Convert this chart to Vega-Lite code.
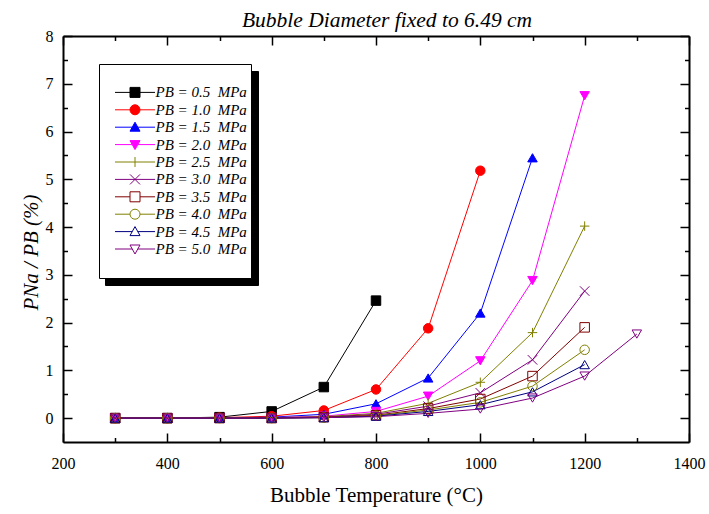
{
  "$schema": "https://vega.github.io/schema/vega-lite/v6.json",
  "width": 626,
  "height": 406,
  "autosize": {"type": "none"},
  "padding": {"left": 63, "top": 36, "right": 20, "bottom": 72},
  "background": "white",
  "config": {"view": {"stroke": null}, "font": "Liberation Serif"},
  "title": {"text": "Bubble Diameter fixed to 6.49 cm", "font": "Liberation Serif", "fontStyle": "italic", "fontSize": 21.5, "fontWeight": "normal", "color": "black", "offset": -3, "dx": 11},
  "data": {"values": [
    {"s": "0.5", "t": 300, "v": 0}, {"s": "0.5", "t": 400, "v": 0}, {"s": "0.5", "t": 500, "v": 0.02}, {"s": "0.5", "t": 600, "v": 0.14}, {"s": "0.5", "t": 700, "v": 0.65}, {"s": "0.5", "t": 800, "v": 2.46},
    {"s": "1.0", "t": 300, "v": 0}, {"s": "1.0", "t": 400, "v": 0}, {"s": "1.0", "t": 500, "v": 0.01}, {"s": "1.0", "t": 600, "v": 0.04}, {"s": "1.0", "t": 700, "v": 0.16}, {"s": "1.0", "t": 800, "v": 0.6}, {"s": "1.0", "t": 900, "v": 1.88}, {"s": "1.0", "t": 1000, "v": 5.18},
    {"s": "1.5", "t": 300, "v": 0}, {"s": "1.5", "t": 400, "v": 0}, {"s": "1.5", "t": 500, "v": 0}, {"s": "1.5", "t": 600, "v": 0.02}, {"s": "1.5", "t": 700, "v": 0.08}, {"s": "1.5", "t": 800, "v": 0.3}, {"s": "1.5", "t": 900, "v": 0.84}, {"s": "1.5", "t": 1000, "v": 2.2}, {"s": "1.5", "t": 1100, "v": 5.45},
    {"s": "2.0", "t": 300, "v": 0}, {"s": "2.0", "t": 400, "v": 0}, {"s": "2.0", "t": 500, "v": 0}, {"s": "2.0", "t": 600, "v": 0.01}, {"s": "2.0", "t": 700, "v": 0.04}, {"s": "2.0", "t": 800, "v": 0.14}, {"s": "2.0", "t": 900, "v": 0.46}, {"s": "2.0", "t": 1000, "v": 1.2}, {"s": "2.0", "t": 1100, "v": 2.88}, {"s": "2.0", "t": 1200, "v": 6.75},
    {"s": "2.5", "t": 300, "v": 0}, {"s": "2.5", "t": 400, "v": 0}, {"s": "2.5", "t": 500, "v": 0}, {"s": "2.5", "t": 600, "v": 0.01}, {"s": "2.5", "t": 700, "v": 0.03}, {"s": "2.5", "t": 800, "v": 0.1}, {"s": "2.5", "t": 900, "v": 0.31}, {"s": "2.5", "t": 1000, "v": 0.75}, {"s": "2.5", "t": 1100, "v": 1.79}, {"s": "2.5", "t": 1200, "v": 4.02},
    {"s": "3.0", "t": 300, "v": 0}, {"s": "3.0", "t": 400, "v": 0}, {"s": "3.0", "t": 500, "v": 0}, {"s": "3.0", "t": 600, "v": 0.01}, {"s": "3.0", "t": 700, "v": 0.02}, {"s": "3.0", "t": 800, "v": 0.08}, {"s": "3.0", "t": 900, "v": 0.25}, {"s": "3.0", "t": 1000, "v": 0.53}, {"s": "3.0", "t": 1100, "v": 1.22}, {"s": "3.0", "t": 1200, "v": 2.66},
    {"s": "3.5", "t": 300, "v": 0}, {"s": "3.5", "t": 400, "v": 0}, {"s": "3.5", "t": 500, "v": 0}, {"s": "3.5", "t": 600, "v": 0}, {"s": "3.5", "t": 700, "v": 0.02}, {"s": "3.5", "t": 800, "v": 0.06}, {"s": "3.5", "t": 900, "v": 0.2}, {"s": "3.5", "t": 1000, "v": 0.4}, {"s": "3.5", "t": 1100, "v": 0.88}, {"s": "3.5", "t": 1200, "v": 1.9},
    {"s": "4.0", "t": 300, "v": 0}, {"s": "4.0", "t": 400, "v": 0}, {"s": "4.0", "t": 500, "v": 0}, {"s": "4.0", "t": 600, "v": 0}, {"s": "4.0", "t": 700, "v": 0.01}, {"s": "4.0", "t": 800, "v": 0.05}, {"s": "4.0", "t": 900, "v": 0.17}, {"s": "4.0", "t": 1000, "v": 0.33}, {"s": "4.0", "t": 1100, "v": 0.67}, {"s": "4.0", "t": 1200, "v": 1.43},
    {"s": "4.5", "t": 300, "v": 0}, {"s": "4.5", "t": 400, "v": 0}, {"s": "4.5", "t": 500, "v": 0}, {"s": "4.5", "t": 600, "v": 0}, {"s": "4.5", "t": 700, "v": 0.01}, {"s": "4.5", "t": 800, "v": 0.04}, {"s": "4.5", "t": 900, "v": 0.14}, {"s": "4.5", "t": 1000, "v": 0.28}, {"s": "4.5", "t": 1100, "v": 0.55}, {"s": "4.5", "t": 1200, "v": 1.12},
    {"s": "5.0", "t": 300, "v": 0}, {"s": "5.0", "t": 400, "v": 0}, {"s": "5.0", "t": 500, "v": 0}, {"s": "5.0", "t": 600, "v": 0}, {"s": "5.0", "t": 700, "v": 0.01}, {"s": "5.0", "t": 800, "v": 0.03}, {"s": "5.0", "t": 900, "v": 0.1}, {"s": "5.0", "t": 1000, "v": 0.19}, {"s": "5.0", "t": 1100, "v": 0.42}, {"s": "5.0", "t": 1200, "v": 0.88}, {"s": "5.0", "t": 1300, "v": 1.76}
  ]},
  "resolve": {"axis": {"x": "independent", "y": "independent"}, "scale": {"color": "independent", "fill": "independent", "shape": "independent", "strokeDash": "independent"}},
  "layer": [
    {
      "mark": {"type": "line", "strokeWidth": 1},
      "encoding": {
        "x": {"field": "t", "type": "quantitative", "scale": {"domain": [200, 1400], "nice": false, "zero": false},
          "axis": {"orient": "bottom", "values": [200,300,400,500,600,700,800,900,1000,1100,1200,1300,1400], "labelExpr": "datum.value % 200 === 0 ? format(datum.value, 'd') : ''", "grid": false,
            "tickSize": -9, "tickDash": {"condition": {"test": "datum.value % 200 !== 0", "value": [4.5, 30]}, "value": []},
            "tickColor": "black", "tickWidth": 1.5, "domainColor": "black", "domainWidth": 2, "labelFont": "Liberation Serif", "labelFontSize": 16, "labelColor": "black", "labelPadding": 22, "labelFlush": false, "labelOverlap": false,
            "title": "Bubble Temperature (°C)", "titleFont": "Liberation Serif", "titleFontSize": 21, "titleFontWeight": "normal", "titleColor": "black", "titlePadding": 13}},
        "y": {"field": "v", "type": "quantitative", "scale": {"domain": [-0.5, 8], "nice": false, "zero": false},
          "axis": {"orient": "left", "values": [0,0.5,1,1.5,2,2.5,3,3.5,4,4.5,5,5.5,6,6.5,7,7.5,8], "labelExpr": "datum.value % 1 === 0 ? format(datum.value, 'd') : ''", "grid": false,
            "tickSize": -9, "tickDash": {"condition": {"test": "datum.value % 1 !== 0", "value": [4.5, 30]}, "value": []},
            "tickColor": "black", "tickWidth": 1.5, "domainColor": "black", "domainWidth": 2, "labelFont": "Liberation Serif", "labelFontSize": 16, "labelColor": "black", "labelPadding": 19, "labelFlush": false, "labelOverlap": false,
            "title": "PNa / PB (%)", "titleFont": "Liberation Serif", "titleFontStyle": "italic", "titleFontSize": 21, "titleFontWeight": "normal", "titleColor": "black", "titleX": -32, "titleY": 216, "titleBaseline": "middle", "titleAngle": -90, "titleAlign": "center"}},
        "color": {"field": "s", "type": "nominal", "legend": null,
          "scale": {"domain": ["0.5","1.0","1.5","2.0","2.5","3.0","3.5","4.0","4.5","5.0"], "range": ["#000000","#ff0000","#0000ff","#ff00ff","#808000","#800080","#800000","#808000","#000080","#800080"]}}
      }
    },
    {
      "mark": {"type": "point", "opacity": 1, "strokeWidth": 1, "size": 90},
      "encoding": {
        "x": {"field": "t", "type": "quantitative", "axis": null},
        "y": {"field": "v", "type": "quantitative", "axis": null},
        "color": {"field": "s", "type": "nominal", "legend": null,
          "scale": {"domain": ["0.5","1.0","1.5","2.0","2.5","3.0","3.5","4.0","4.5","5.0"], "range": ["#000000","#ff0000","#0000ff","#ff00ff","#808000","#800080","#800000","#808000","#000080","#800080"]}},
        "fill": {"field": "s", "type": "nominal", "legend": null,
          "scale": {"domain": ["0.5","1.0","1.5","2.0","2.5","3.0","3.5","4.0","4.5","5.0"], "range": ["#000000","#ff0000","#0000ff","#ff00ff","transparent","transparent","transparent","transparent","transparent","transparent"]}},
        "shape": {"field": "s", "type": "nominal", "legend": null,
          "scale": {"domain": ["0.5","1.0","1.5","2.0","2.5","3.0","3.5","4.0","4.5","5.0"], "range": ["square","circle","triangle-up","triangle-down","M-1,0H1M0,-1V1","M-1,-1L1,1M-1,1L1,-1","square","circle","triangle-up","triangle-down"]}}
      }
    },
    {
      "transform": [{"filter": "false"}],
      "mark": {"type": "line", "strokeWidth": 1, "color": "black"},
      "encoding": {
        "x": {"field": "t", "type": "quantitative", "axis": null},
        "y": {"field": "v", "type": "quantitative", "axis": null},
        "strokeDash": {"field": "s", "type": "nominal", "title": null,
          "scale": {"domain": ["top","0.5","1.0","1.5","2.0","2.5","3.0","3.5","4.0","4.5","5.0","bottom"]},
          "legend": {"orient": "none", "legendX": 42, "legendY": 35, "title": null, "fillColor": "black", "strokeColor": "black", "padding": 3.5, "rowPadding": 1.4, "labelOffset": 106, "symbolOffset": 25, "labelFont": "Liberation Serif", "labelFontStyle": "italic", "labelFontSize": 15, "labelColor": "black", "symbolSize": 100, "symbolStrokeColor": "black", "symbolStrokeWidth": 1, "labelExpr": "''"}}
      }
    },
    {
      "transform": [{"filter": "false"}],
      "mark": {"type": "point", "opacity": 1, "strokeWidth": 1, "size": 100},
      "encoding": {
        "x": {"field": "t", "type": "quantitative",
          "axis": {"orient": "top", "values": [200,300,400,500,600,700,800,900,1000,1100,1200,1300,1400], "labels": false, "title": null, "grid": false,
            "tickSize": -9, "tickDash": {"condition": {"test": "datum.value % 200 !== 0", "value": [4.5, 30]}, "value": []},
            "tickColor": "black", "tickWidth": 1.5, "domainColor": "black", "domainWidth": 2}},
        "y": {"field": "v", "type": "quantitative",
          "axis": {"orient": "right", "values": [0,0.5,1,1.5,2,2.5,3,3.5,4,4.5,5,5.5,6,6.5,7,7.5,8], "labels": false, "title": null, "grid": false,
            "tickSize": -9, "tickDash": {"condition": {"test": "datum.value % 1 !== 0", "value": [4.5, 30]}, "value": []},
            "tickColor": "black", "tickWidth": 1.5, "domainColor": "black", "domainWidth": 2}},
        "color": {"field": "s", "type": "nominal", "title": null,
          "scale": {"domain": ["top","0.5","1.0","1.5","2.0","2.5","3.0","3.5","4.0","4.5","5.0","bottom"], "range": ["#ffffff","#000000","#ff0000","#0000ff","#ff00ff","#808000","#800080","#800000","#808000","#000080","#800080","#ffffff"]},
          "legend": {"orient": "none", "legendX": 36, "legendY": 28, "title": null, "fillColor": "white", "strokeColor": "black", "padding": 3.5, "rowPadding": 1.4, "labelOffset": 13, "symbolOffset": 25, "labelFont": "Liberation Serif", "labelFontStyle": "italic", "labelFontSize": 15, "labelColor": "black", "symbolSize": 100, "symbolStrokeWidth": 1, "labelExpr": "indexof(datum.label, '.') < 0 ? '' : 'PB = ' + datum.label + '\u00a0\u00a0MPa'"}},
        "fill": {"field": "s", "type": "nominal", "title": null,
          "scale": {"domain": ["top","0.5","1.0","1.5","2.0","2.5","3.0","3.5","4.0","4.5","5.0","bottom"], "range": ["#ffffff","#000000","#ff0000","#0000ff","#ff00ff","#ffffff","#ffffff","#ffffff","#ffffff","#ffffff","#ffffff","#ffffff"]},
          "legend": {"orient": "none", "legendX": 36, "legendY": 28, "title": null, "fillColor": "white", "strokeColor": "black", "padding": 3.5, "rowPadding": 1.4, "labelOffset": 13, "symbolOffset": 25, "labelFont": "Liberation Serif", "labelFontStyle": "italic", "labelFontSize": 15, "labelColor": "black", "symbolSize": 100, "symbolStrokeWidth": 1, "labelExpr": "indexof(datum.label, '.') < 0 ? '' : 'PB = ' + datum.label + '\u00a0\u00a0MPa'"}},
        "shape": {"field": "s", "type": "nominal", "title": null,
          "scale": {"domain": ["top","0.5","1.0","1.5","2.0","2.5","3.0","3.5","4.0","4.5","5.0","bottom"], "range": ["M0,0Z","M-4,0H-1M1,0H4M-1,-1H1V1H-1Z","M-4,0H-1M1,0H4M1,0A1,1,0,1,1,-1,0A1,1,0,1,1,1,0Z","M-4,0H-0.56M0.56,0H4M0,-1L1,0.8L-1,0.8Z","M-4,0H-0.56M0.56,0H4M0,1L1,-0.8L-1,-0.8Z","M-4,0H4M0,-1V1","M-4,0H4M-1,-1L1,1M-1,1L1,-1","M-4,0H-1M1,0H4M-1,-1H1V1H-1Z","M-4,0H-1M1,0H4M1,0A1,1,0,1,1,-1,0A1,1,0,1,1,1,0Z","M-4,0H-0.56M0.56,0H4M0,-1L1,0.8L-1,0.8Z","M-4,0H-0.56M0.56,0H4M0,1L1,-0.8L-1,-0.8Z","M0,0Z"]},
          "legend": {"orient": "none", "legendX": 36, "legendY": 28, "title": null, "fillColor": "white", "strokeColor": "black", "padding": 3.5, "rowPadding": 1.4, "labelOffset": 13, "symbolOffset": 25, "labelFont": "Liberation Serif", "labelFontStyle": "italic", "labelFontSize": 15, "labelColor": "black", "symbolSize": 100, "symbolStrokeWidth": 1, "labelExpr": "indexof(datum.label, '.') < 0 ? '' : 'PB = ' + datum.label + '\u00a0\u00a0MPa'"}}
      }
    }
  ]
}
